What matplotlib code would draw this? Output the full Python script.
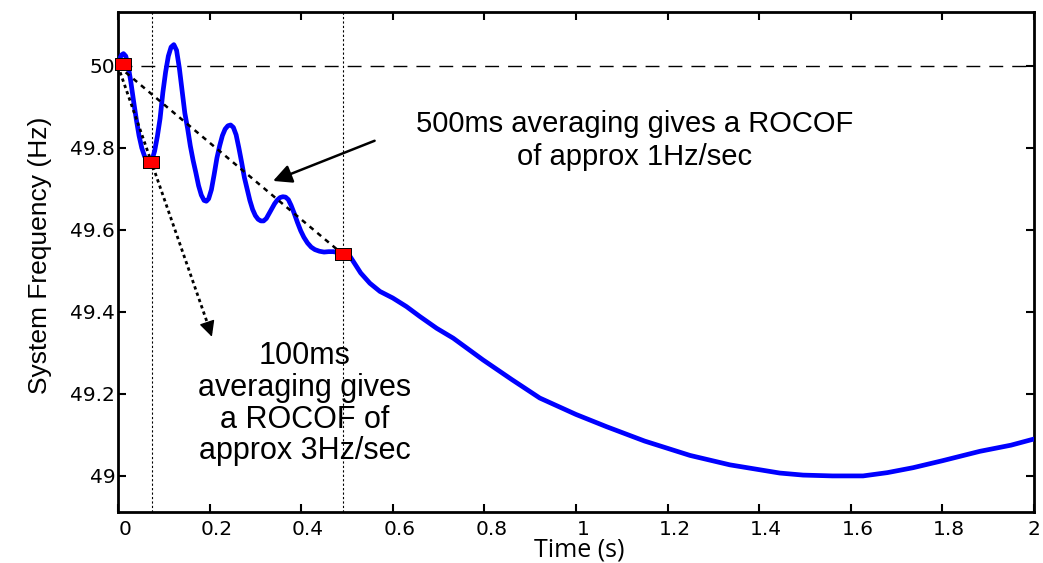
"""System frequency after a loss-of-infeed event, with ROCOF averaging windows."""

import matplotlib

matplotlib.use("Agg")
import matplotlib.pyplot as plt  # noqa: E402
from matplotlib.transforms import ScaledTranslation  # noqa: E402

# Frequency trace (time in s, frequency in Hz)
time_s = [
    0.000, 0.004, 0.008, 0.012, 0.017, 0.022, 0.028, 0.034, 0.040, 0.046,
    0.052, 0.058, 0.064, 0.070, 0.075, 0.080, 0.086, 0.092, 0.098, 0.104,
    0.110, 0.116, 0.122, 0.128, 0.134, 0.140, 0.146, 0.152, 0.158, 0.164,
    0.170, 0.176, 0.182, 0.188, 0.193, 0.198, 0.204, 0.210, 0.216, 0.222,
    0.228, 0.234, 0.240, 0.246, 0.252, 0.258, 0.264, 0.270, 0.276, 0.282,
    0.288, 0.294, 0.300, 0.306, 0.312, 0.318, 0.324, 0.330, 0.336, 0.342,
    0.348, 0.354, 0.360, 0.366, 0.372, 0.378, 0.385, 0.392, 0.399, 0.406,
    0.414, 0.422, 0.430, 0.440, 0.450, 0.460, 0.470, 0.480, 0.490, 0.507,
    0.530, 0.550, 0.572, 0.600, 0.630, 0.659, 0.696, 0.732, 0.797, 0.860,
    0.921, 1.000, 1.067, 1.150, 1.249, 1.336, 1.445, 1.496, 1.560, 1.627,
    1.680, 1.736, 1.800, 1.882, 1.950, 2.000,
]
freq_hz = [
    50.000, 50.018, 50.027, 50.030, 50.024, 50.002, 49.962, 49.915, 49.870, 49.830,
    49.800, 49.780, 49.769, 49.766, 49.773, 49.792, 49.828, 49.872, 49.935, 49.985,
    50.024, 50.046, 50.052, 50.038, 49.995, 49.940, 49.885, 49.848, 49.805, 49.770,
    49.740, 49.708, 49.685, 49.672, 49.670, 49.676, 49.698, 49.735, 49.775, 49.805,
    49.830, 49.846, 49.854, 49.856, 49.850, 49.832, 49.800, 49.765, 49.728, 49.700,
    49.672, 49.650, 49.635, 49.626, 49.622, 49.622, 49.628, 49.640, 49.652, 49.664,
    49.673, 49.679, 49.681, 49.680, 49.674, 49.660, 49.640, 49.618, 49.598, 49.582,
    49.568, 49.558, 49.552, 49.548, 49.546, 49.547, 49.547, 49.545, 49.541, 49.535,
    49.495, 49.470, 49.450, 49.434, 49.413, 49.389, 49.360, 49.336, 49.283, 49.235,
    49.190, 49.150, 49.120, 49.085, 49.050, 49.027, 49.007, 49.002, 49.000, 49.000,
    49.008, 49.020, 49.037, 49.060, 49.075, 49.090,
]

# Sample points used for the two averaging windows
marker_t = [0.010, 0.073, 0.4906]
marker_f = [50.005, 49.765, 49.541]
window_t = [0.0735, 0.492]          # dotted vertical guides
chord_start = (0.0, 50.0)

nominal_hz = 50.0
head_100ms = (0.207, 49.333)   # tip of the dotted 100ms arrow
arrow_500ms = ((0.566, 49.82), (0.333, 49.717))  # tail, tip

xticks = [0, 0.2, 0.4, 0.6, 0.8, 1, 1.2, 1.4, 1.6, 1.8, 2]
xtick_labels = ["0", "0.2", "0.4", "0.6", "0.8", "1", "1.2", "1.4", "1.6", "1.8", "2"]
yticks = [49, 49.2, 49.4, 49.6, 49.8, 50]
ytick_labels = ["49", "49.2", "49.4", "49.6", "49.8", "50"]

fig = plt.figure(figsize=(10.43, 5.63), dpi=100)
ax = fig.add_axes([0.1131, 0.0906, 0.8782, 0.8884])

# reference lines
ax.axhline(nominal_hz, color="k", linewidth=1, dashes=(10, 6.5))
for t in window_t:
    ax.axvline(t, color="k", linewidth=0.8, dashes=(2, 2))

ax.plot(time_s, freq_hz, color="#0000ff", linewidth=3.4,
        solid_capstyle="round", solid_joinstyle="round", zorder=3)

# 500ms chord
ax.plot([chord_start[0], marker_t[2]], [chord_start[1], marker_f[2]],
        color="k", linewidth=1.8, dashes=(2, 2), zorder=4)
# 100ms chord, extended to the arrow head
ax.plot([chord_start[0], head_100ms[0] - 0.004], [chord_start[1], head_100ms[1] + 0.015],
        color="k", linewidth=2.0, dashes=(1.2, 1.2), zorder=4)
ax.annotate("", xy=head_100ms, xytext=(head_100ms[0] - 0.012, head_100ms[1] + 0.04),
            arrowprops=dict(arrowstyle="-|>", color="k", lw=1.0, mutation_scale=24),
            zorder=5)

rect = [(-1.45, -1), (1.45, -1), (1.45, 1), (-1.45, 1), (-1.45, -1)]
ax.plot(marker_t, marker_f, linestyle="none", marker=rect, markersize=11.5,
        markerfacecolor="#ff0000", markeredgecolor="k", markeredgewidth=0.7,
        zorder=6, clip_on=False)

ax.annotate("", xy=arrow_500ms[1], xytext=arrow_500ms[0],
            arrowprops=dict(arrowstyle="-|>", color="k", lw=1.8, mutation_scale=28))

text_font = ["Liberation Sans", "DejaVu Sans"]
ax.text(1.129, 49.818, "500ms averaging gives a ROCOF\nof approx 1Hz/sec",
        ha="center", va="center", fontsize=21, family=text_font, linespacing=1.2)
ax.text(0.408, 49.176, "100ms\naveraging gives\na ROCOF of\napprox 3Hz/sec",
        ha="center", va="center", fontsize=22, family=text_font, linespacing=1.07)

ax.set_xlim(0, 2)
ax.set_ylim(48.912, 50.132)
ax.set_xticks(xticks)
ax.set_xticklabels(xtick_labels)
ax.set_yticks(yticks)
ax.set_yticklabels(ytick_labels)
ax.tick_params(direction="in", length=6, width=1.5, top=True, right=True, labelsize=14.5)
ax.tick_params(axis="x", pad=6)
ax.tick_params(axis="y", pad=2)
# the reference's x tick labels sit a little right of their ticks
xlabels = ax.get_xticklabels()
for lab in xlabels[:-1]:
    lab.set_transform(lab.get_transform() + ScaledTranslation(0.07, 0, fig.dpi_scale_trans))
for spine in ax.spines.values():
    spine.set_linewidth(2)

ax.set_xlabel("Time (s)", fontsize=18, family=["Open Sans", "DejaVu Sans"], va="baseline")
ax.xaxis.set_label_coords(0.504, -0.089)
ax.set_ylabel("System Frequency (Hz)", fontsize=19,
              family=["Liberation Sans Narrow", "Liberation Sans"])
ax.yaxis.set_label_coords(-0.072, 0.514)

fig.savefig("out.png", dpi=100)
